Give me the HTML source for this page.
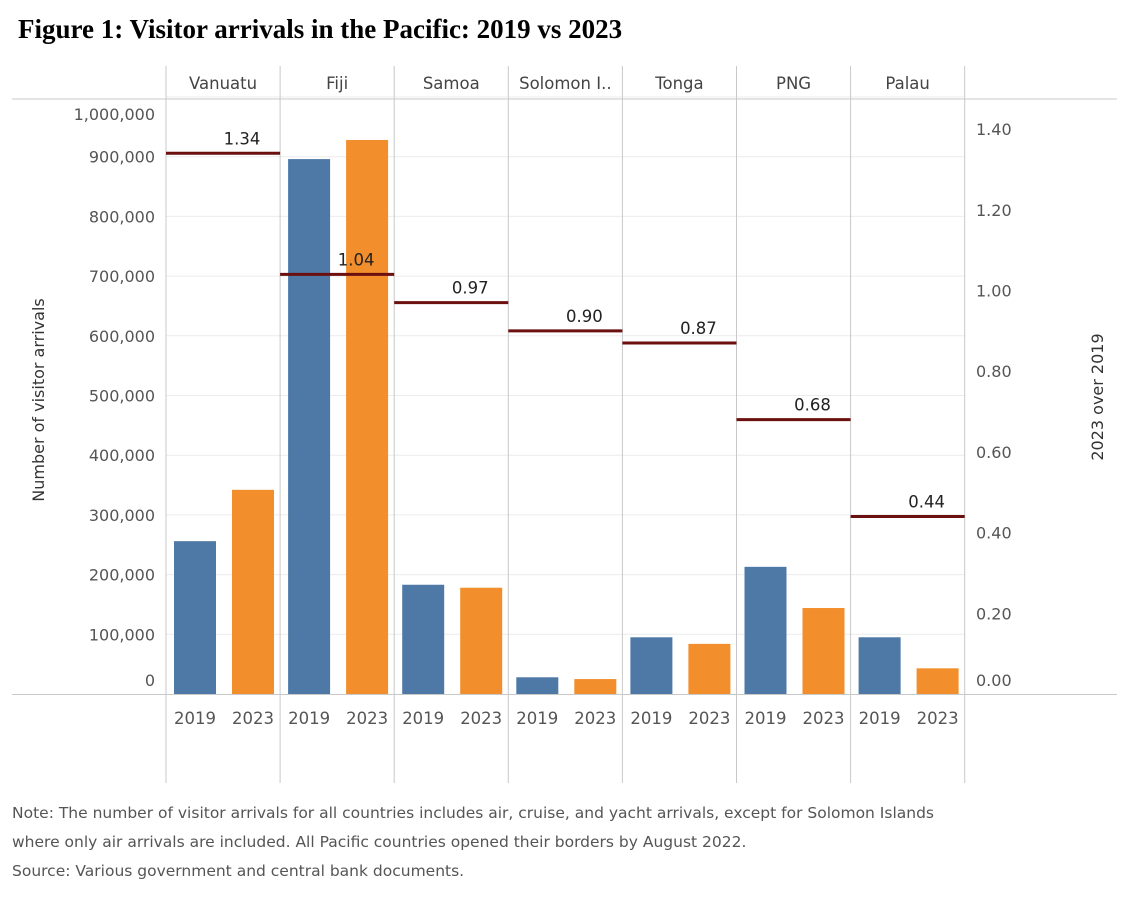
<!DOCTYPE html>
<html><head><meta charset="utf-8"><style>
body{margin:0;background:#fff;width:1133px;height:900px;overflow:hidden;font-family:"DejaVu Sans","Liberation Sans",sans-serif}
#title{position:absolute;left:18px;top:14px;font-family:"Liberation Serif",serif;font-weight:bold;font-size:27px;color:#000}
.note{position:absolute;left:12px;font-size:15.5px;color:#555}
</style></head><body>
<div id="title">Figure 1: Visitor arrivals in the Pacific: 2019 vs 2023</div>
<svg id="chart" width="1133" height="800" style="position:absolute;left:0;top:0"></svg>
<div class="note" style="top:804px">Note: The number of visitor arrivals for all countries includes air, cruise, and yacht arrivals, except for Solomon Islands</div>
<div class="note" style="top:833px">where only air arrivals are included. All Pacific countries opened their borders by August 2022.</div>
<div class="note" style="top:862px">Source: Various government and central bank documents.</div>
<script>
const countries=["Vanuatu","Fiji","Samoa","Solomon I..","Tonga","PNG","Palau"];
const arrivals2019=[256000,896000,183000,28000,95000,213000,95000];
const arrivals2023=[342000,928000,178000,25000,84000,144000,43000];
const ratios=[1.34,1.04,0.97,0.90,0.87,0.68,0.44];
const leftTicks=[0,100000,200000,300000,400000,500000,600000,700000,800000,900000,1000000];
const rightTicks=[0,0.2,0.4,0.6,0.8,1.0,1.2,1.4];
const years=["2019","2023"];
const NS="http://www.w3.org/2000/svg";
const svg=document.getElementById('chart');
const base=694, x0=166, pw=114.1;
const yL=v=>base-v*0.000597;
const yR=v=>base-v*403.5;
function el(t,a,txt){const e=document.createElementNS(NS,t);for(const k in a)e.setAttribute(k,a[k]);if(txt!==undefined)e.textContent=txt;svg.appendChild(e);return e;}
// gridlines
leftTicks.forEach(v=>{if(v>0){const g=el('line',{x1:166,x2:965,y1:yL(v),y2:yL(v),stroke:'#ececec','stroke-width':1});

}});
// left ticks
leftTicks.forEach(v=>{let y=yL(v)+6;if(v===0)y=base-8;if(v===1000000)y=120;
const t=el('text',{x:155,y:y,'text-anchor':'end','font-size':16,fill:'#555'},v.toLocaleString('en-US'));

});
rightTicks.forEach(v=>{let y=yR(v)+6;if(v===0)y=base-8;
const t=el('text',{x:976,y:y,'font-size':16,fill:'#555'},v.toFixed(2));

});
// structure lines
el('line',{x1:12,x2:1117,y1:99,y2:99,stroke:'#c8c8c8'});
el('line',{x1:12,x2:1117,y1:base+0.5,y2:base+0.5,stroke:'#c8c8c8'});
for(let i=0;i<=countries.length;i++){const x=x0+i*pw;const l=el('line',{x1:x,x2:x,y1:66,y2:783,stroke:'#c8c8c8'});

}
countries.forEach((c,i)=>{const px=x0+i*pw;
const h=el('text',{x:px+pw/2,y:89,'text-anchor':'middle','font-size':16.5,fill:'#444'},c);


[arrivals2019[i],arrivals2023[i]].forEach((v,j)=>{const bx=px+8+j*58;
const b=el('rect',{x:bx,y:yL(v),width:42,height:base-yL(v),fill:j?'#f28e2b':'#4e79a7'});


const t=el('text',{x:bx+21,y:724,'text-anchor':'middle','font-size':16.5,fill:'#555'},years[j]);

});
const ry=yR(ratios[i]);
const rl=el('line',{x1:px,x2:px+pw,y1:ry,y2:ry,stroke:'#6b0f0f','stroke-width':3});


const rt=el('text',{x:px+pw/2+19,y:ry-9,'text-anchor':'middle','font-size':16.5,fill:'#222'},ratios[i].toFixed(2));

});
const lt=el('text',{x:0,y:0,transform:'translate(44,400) rotate(-90)','text-anchor':'middle','font-size':16,fill:'#333'},'Number of visitor arrivals');


const rtt=el('text',{x:0,y:0,transform:'translate(1103,397) rotate(-90)','text-anchor':'middle','font-size':16,fill:'#333'},'2023 over 2019');


</script>
</body></html>
